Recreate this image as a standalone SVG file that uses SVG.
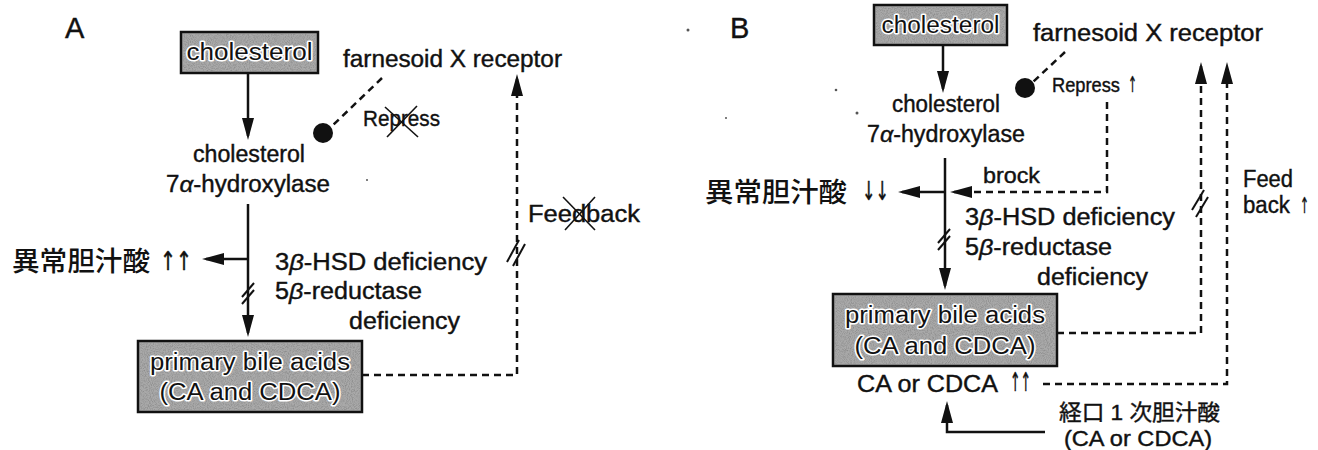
<svg xmlns="http://www.w3.org/2000/svg" width="1318" height="450" viewBox="0 0 1318 450">
<defs>
<marker id="ah" viewBox="0 0 22 12" refX="18" refY="6" markerWidth="22" markerHeight="12" markerUnits="userSpaceOnUse" orient="auto"><path d="M0,0 L22,6 L0,12 Z" fill="#111"/></marker>
<filter id="grain" x="0" y="0" width="1" height="1"><feTurbulence type="fractalNoise" baseFrequency="0.95" numOctaves="2" seed="3"/><feColorMatrix type="matrix" values="0 0 0 0 0.2  0 0 0 0 0.2  0 0 0 0 0.2  1.4 0 0 0 -0.55"/></filter>
</defs>
<style>
.t{font-family:"Liberation Sans",Arial,"Noto Sans CJK JP",sans-serif;fill:#111;font-size:23px;stroke:#111;stroke-width:0.4}
.ar{font-family:"DejaVu Sans",sans-serif;fill:#111;font-size:26px;stroke:#111;stroke-width:0.5}
.cjk{font-family:"Noto Sans CJK JP",sans-serif;fill:#111;font-size:27px;font-weight:500}
.box{fill:#a9a9a9;stroke:#111;stroke-width:2.5}
.bt{stroke:#fff;stroke-width:3;paint-order:stroke;stroke-linejoin:round}
.ln{stroke:#111;stroke-width:2.5;fill:none}
.dl{stroke:#111;stroke-width:2.5;fill:none;stroke-dasharray:7 5}
.x{stroke:#111;stroke-width:1.6}
.sl{stroke:#111;stroke-width:2}
.dot{fill:#555}
</style>
<rect width="1318" height="450" fill="#fff"/>
<g id="noise">
<circle class="dot" cx="688" cy="30" r="1.5"/>
<circle class="dot" cx="836" cy="90" r="1.3"/>
<circle class="dot" cx="857" cy="113" r="1.5"/>
<circle class="dot" cx="726" cy="118" r="1"/>
<circle class="dot" cx="367" cy="180" r="1"/>
</g>
<!-- Panel A -->
<text class="t" x="65" y="38" style="font-size:29px">A</text>
<g id="cholA">
<rect class="box" x="181" y="32" width="137" height="41"/>
<rect x="182.5" y="33.5" width="134" height="38" filter="url(#grain)"/>
<text class="t bt" x="249.5" y="60" text-anchor="middle" textLength="126" lengthAdjust="spacingAndGlyphs">cholesterol</text>
</g>
<g id="fxrA"><text class="t" x="343" y="67" textLength="219" lengthAdjust="spacingAndGlyphs">farnesoid X receptor</text></g>
<g id="enzA">
<text class="t" x="249" y="162" text-anchor="middle" textLength="112" lengthAdjust="spacingAndGlyphs">cholesterol</text>
<text class="t" x="248" y="192" text-anchor="middle" textLength="164" lengthAdjust="spacingAndGlyphs">7<tspan font-style="italic">α</tspan>-hydroxylase</text>
</g>
<g id="abnA">
<text class="cjk" x="12" y="271" textLength="138" lengthAdjust="spacingAndGlyphs">異常胆汁酸</text>
<text class="ar" x="160" y="270" textLength="32" lengthAdjust="spacingAndGlyphs">↑↑</text>
</g>
<g id="defA">
<text class="t" x="275" y="270" textLength="212" lengthAdjust="spacingAndGlyphs">3<tspan font-style="italic">β</tspan>-HSD deficiency</text>
<text class="t" x="275" y="299" textLength="147" lengthAdjust="spacingAndGlyphs">5<tspan font-style="italic">β</tspan>-reductase</text>
<text class="t" x="349" y="329" textLength="111" lengthAdjust="spacingAndGlyphs">deficiency</text>
</g>
<g id="pbaA">
<rect class="box" x="138" y="341" width="224" height="71"/>
<rect x="139.5" y="342.5" width="221" height="68" filter="url(#grain)"/>
<text class="t bt" x="250" y="370" text-anchor="middle" textLength="200" lengthAdjust="spacingAndGlyphs">primary bile acids</text>
<text class="t bt" x="250" y="400" text-anchor="middle" textLength="181" lengthAdjust="spacingAndGlyphs">(CA and CDCA)</text>
</g>
<g id="repA">
<text class="t" x="363" y="126" style="font-size:22px" textLength="77" lengthAdjust="spacingAndGlyphs">Repress</text>
<line class="x" x1="385" y1="107" x2="418" y2="137"/><line class="x" x1="387" y1="137" x2="417" y2="106"/>
</g>
<g id="fbA">
<text class="t" x="528" y="222" textLength="112" lengthAdjust="spacingAndGlyphs">Feedback</text>
<line class="x" x1="563" y1="197" x2="595" y2="230"/><line class="x" x1="565" y1="230" x2="595" y2="197"/>
</g>
<!-- Panel B -->
<text class="t" x="730" y="38" style="font-size:29px">B</text>
<g id="cholB">
<rect class="box" x="874" y="5" width="133" height="40"/>
<rect x="875.5" y="6.5" width="130" height="37" filter="url(#grain)"/>
<text class="t bt" x="940.5" y="33" text-anchor="middle" textLength="118" lengthAdjust="spacingAndGlyphs">cholesterol</text>
</g>
<g id="fxrB"><text class="t" x="1033" y="41" textLength="230" lengthAdjust="spacingAndGlyphs">farnesoid X receptor</text></g>
<g id="repB">
<text class="t" x="1052" y="92" style="font-size:20px" textLength="68" lengthAdjust="spacingAndGlyphs">Repress</text>
<text class="ar" x="1128" y="92" style="font-size:22px" textLength="9" lengthAdjust="spacingAndGlyphs">↑</text>
</g>
<g id="enzB">
<text class="t" x="946" y="112" text-anchor="middle" textLength="108" lengthAdjust="spacingAndGlyphs">cholesterol</text>
<text class="t" x="946" y="142" text-anchor="middle" textLength="158" lengthAdjust="spacingAndGlyphs">7<tspan font-style="italic">α</tspan>-hydroxylase</text>
</g>
<g id="brockB"><text class="t" x="983" y="183" style="font-size:22px" textLength="57" lengthAdjust="spacingAndGlyphs">brock</text></g>
<g id="abnB">
<text class="cjk" x="705" y="202" textLength="142" lengthAdjust="spacingAndGlyphs">異常胆汁酸</text>
<text class="ar" x="862" y="200" textLength="27" lengthAdjust="spacingAndGlyphs">↓↓</text>
</g>
<g id="defB">
<text class="t" x="965" y="225" textLength="210" lengthAdjust="spacingAndGlyphs">3<tspan font-style="italic">β</tspan>-HSD deficiency</text>
<text class="t" x="965" y="255" textLength="147" lengthAdjust="spacingAndGlyphs">5<tspan font-style="italic">β</tspan>-reductase</text>
<text class="t" x="1037" y="285" textLength="111" lengthAdjust="spacingAndGlyphs">deficiency</text>
</g>
<g id="pbaB">
<rect class="box" x="833" y="294" width="224" height="72"/>
<rect x="834.5" y="295.5" width="221" height="69" filter="url(#grain)"/>
<text class="t bt" x="945" y="323" text-anchor="middle" textLength="200" lengthAdjust="spacingAndGlyphs">primary bile acids</text>
<text class="t bt" x="945" y="354" text-anchor="middle" textLength="181" lengthAdjust="spacingAndGlyphs">(CA and CDCA)</text>
</g>
<g id="caB">
<text class="t" x="857" y="392" textLength="141" lengthAdjust="spacingAndGlyphs">CA or CDCA</text>
<text class="ar" x="1010" y="391" textLength="21" lengthAdjust="spacingAndGlyphs">↑↑</text>
</g>
<g id="fbB">
<text class="t" x="1243" y="187" textLength="50" lengthAdjust="spacingAndGlyphs">Feed</text>
<text class="t" x="1243" y="213" textLength="47" lengthAdjust="spacingAndGlyphs">back</text>
<text class="ar" x="1300" y="213" style="font-size:22px" textLength="9" lengthAdjust="spacingAndGlyphs">↑</text>
</g>
<g id="oralB">
<text class="t" x="1059" y="420" style="font-size:22px" textLength="161" lengthAdjust="spacingAndGlyphs">経口 1 次胆汁酸</text>
<text class="t" x="1064" y="446" style="font-size:22px" textLength="148" lengthAdjust="spacingAndGlyphs">(CA or CDCA)</text>
</g>
<g id="connectors">
<!-- A -->
<line class="ln" x1="248" y1="73" x2="248" y2="136" marker-end="url(#ah)"/>
<line class="ln" x1="248" y1="204" x2="248" y2="333" marker-end="url(#ah)"/>
<line class="ln" x1="248" y1="259" x2="206" y2="259" marker-end="url(#ah)"/>
<line class="sl" x1="242" y1="297" x2="254" y2="283"/><line class="sl" x1="242" y1="304" x2="254" y2="290"/>
<line class="dl" x1="382" y1="78" x2="331" y2="127"/>
<circle cx="323" cy="133" r="10" fill="#111"/>
<path class="dl" d="M362,375 H517 V78" marker-end="url(#ah)"/>
<line class="sl" x1="507" y1="262" x2="519" y2="240"/><line class="sl" x1="513" y1="266" x2="525" y2="244"/>
<!-- B -->
<line class="ln" x1="943" y1="45" x2="943" y2="89" marker-end="url(#ah)"/>
<line class="dl" x1="1065" y1="52" x2="1033" y2="82"/>
<circle cx="1025" cy="88" r="10" fill="#111"/>
<line class="ln" x1="945" y1="158" x2="945" y2="286" marker-end="url(#ah)"/>
<line class="ln" x1="945" y1="192" x2="902" y2="192" marker-end="url(#ah)"/>
<path class="dl" d="M1107,102 V192 H954" marker-end="url(#ah)"/>
<line class="sl" x1="938" y1="243" x2="950" y2="229"/><line class="sl" x1="938" y1="250" x2="950" y2="236"/>
<path class="dl" d="M1057,333 H1201 V66" marker-end="url(#ah)"/>
<line class="sl" x1="1192" y1="210" x2="1204" y2="190"/><line class="sl" x1="1196" y1="217" x2="1208" y2="197"/>
<path class="dl" d="M1043,384 H1227 V66" marker-end="url(#ah)"/>
<path class="ln" d="M1045,432 H947 V405" marker-end="url(#ah)"/>
</g>
</svg>
